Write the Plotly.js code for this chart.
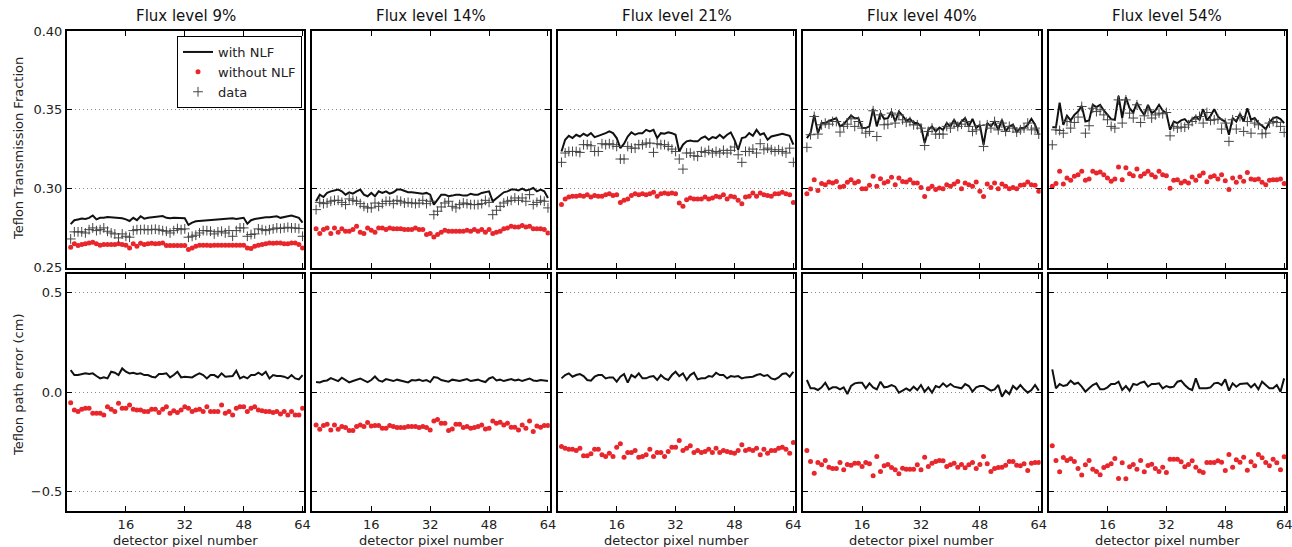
<!DOCTYPE html>
<html><head><meta charset="utf-8">
<script src="https://cdn.plot.ly/plotly-3.0.1.min.js"></script>
<style>html,body{margin:0;padding:0;background:#fff}#chart{width:1292px;height:547px}</style>
</head><body><div id="chart"></div>
<script>
const pixels = [1,2,3,4,5,6,7,8,9,10,11,12,13,14,15,16,17,18,19,20,21,22,23,24,25,26,27,28,29,30,31,32,
 33,34,35,36,37,38,39,40,41,42,43,44,45,46,47,48,49,50,51,52,53,54,55,56,57,58,59,60,61,62,63,64];
const fluxLabels = ['Flux level 9%','Flux level 14%','Flux level 21%','Flux level 40%','Flux level 54%'];
const xTicks = [16,32,48,64];
const topTicks = [0.25,0.30,0.35,0.40];
const botTicks = [-0.5,0.0,0.5];
const seriesNames = ['with NLF','without NLF','data'];

// ---- Flux 9% ----
const top_with_9 = [0.2775,0.2800,0.2805,0.2810,0.2808,0.2815,0.2830,0.2805,0.2815,0.2815,
 0.2820,0.2818,0.2815,0.2815,0.2812,0.2805,0.2795,0.2815,0.2800,0.2825,
 0.2810,0.2815,0.2818,0.2820,0.2822,0.2826,0.2815,0.2813,0.2816,0.2814,
 0.2815,0.2812,0.2770,0.2785,0.2793,0.2795,0.2800,0.2800,0.2802,0.2805,
 0.2805,0.2808,0.2808,0.2810,0.2812,0.2808,0.2812,0.2815,0.2778,0.2800,
 0.2808,0.2812,0.2815,0.2818,0.2818,0.2822,0.2825,0.2815,0.2818,0.2825,
 0.2830,0.2822,0.2815,0.2785];
const top_without_9 = [0.2629,0.2650,0.2639,0.2646,0.2650,0.2656,0.2660,0.2650,0.2641,0.2646,
 0.2646,0.2646,0.2646,0.2650,0.2646,0.2641,0.2624,0.2650,0.2635,0.2654,
 0.2646,0.2650,0.2654,0.2650,0.2652,0.2656,0.2639,0.2639,0.2639,0.2639,
 0.2639,0.2639,0.2614,0.2624,0.2635,0.2641,0.2641,0.2641,0.2639,0.2641,
 0.2641,0.2641,0.2641,0.2641,0.2641,0.2641,0.2641,0.2641,0.2624,0.2620,
 0.2635,0.2641,0.2646,0.2650,0.2656,0.2654,0.2656,0.2656,0.2650,0.2650,
 0.2656,0.2656,0.2646,0.2624];
const top_data_9 = [0.2681,0.2726,0.2726,0.2726,0.2719,0.2740,0.2751,0.2734,0.2740,0.2751,
 0.2730,0.2719,0.2713,0.2688,0.2713,0.2698,0.2692,0.2734,0.2740,0.2740,
 0.2742,0.2738,0.2741,0.2743,0.2739,0.2734,0.2730,0.2719,0.2734,0.2747,
 0.2740,0.2745,0.2692,0.2698,0.2705,0.2719,0.2734,0.2734,0.2730,0.2713,
 0.2726,0.2730,0.2719,0.2734,0.2698,0.2734,0.2751,0.2751,0.2698,0.2709,
 0.2713,0.2745,0.2740,0.2734,0.2740,0.2745,0.2751,0.2747,0.2751,0.2755,
 0.2751,0.2751,0.2747,0.2698];
const bot_with_9 = [0.1103,0.0852,0.0852,0.0902,0.0936,0.0902,0.0936,0.0802,0.0685,0.0735,
 0.0685,0.1019,0.0969,0.0852,0.1186,0.1019,0.0936,0.0969,0.0902,0.0936,
 0.0852,0.0852,0.0769,0.0735,0.0902,0.0902,0.0936,0.0735,0.0852,0.1019,
 0.0735,0.0769,0.0735,0.0735,0.0852,0.0936,0.0852,0.0685,0.0852,0.0852,
 0.0735,0.0936,0.0769,0.0769,0.0802,0.1069,0.0685,0.0769,0.0685,0.0852,
 0.0852,0.0969,0.0852,0.1019,0.0685,0.0852,0.0802,0.0802,0.0769,0.0685,
 0.0852,0.0685,0.0635,0.0852];
const bot_without_9 = [-0.0535,-0.0902,-0.0986,-0.0869,-0.0819,-0.0819,-0.1069,-0.1069,-0.1069,-0.1153,
 -0.0735,-0.0869,-0.0986,-0.0568,-0.0819,-0.0819,-0.0652,-0.0869,-0.0902,-0.0902,
 -0.0986,-0.0986,-0.0869,-0.0869,-0.1036,-0.0869,-0.0735,-0.1069,-0.0936,-0.1036,
 -0.0902,-0.0735,-0.0819,-0.0986,-0.0902,-0.0869,-0.0986,-0.0735,-0.0986,-0.0986,
 -0.0986,-0.0652,-0.1069,-0.0986,-0.1153,-0.0819,-0.0735,-0.0735,-0.0986,-0.0819,
 -0.0735,-0.0902,-0.0936,-0.0986,-0.0986,-0.1036,-0.0986,-0.1103,-0.0986,-0.1153,
 -0.0986,-0.1153,-0.1153,-0.0819];

// ---- Flux 14% ----
const top_with_14 = [0.2920,0.2962,0.2947,0.2973,0.2983,0.2989,0.2994,0.2983,0.2962,0.2977,
 0.2968,0.2983,0.2994,0.2962,0.2952,0.2973,0.2952,0.2983,0.2973,0.2983,
 0.2968,0.2977,0.2994,0.2994,0.2983,0.2977,0.2977,0.2973,0.2973,0.2968,
 0.2973,0.2962,0.2899,0.2930,0.2962,0.2962,0.2952,0.2956,0.2962,0.2962,
 0.2956,0.2956,0.2968,0.2962,0.2962,0.2973,0.2977,0.2983,0.2920,0.2941,
 0.2962,0.2977,0.2983,0.2994,0.2994,0.2989,0.3000,0.2989,0.2994,0.3004,
 0.2983,0.2994,0.2983,0.2941];
const top_without_14 = [0.2745,0.2715,0.2741,0.2751,0.2715,0.2751,0.2724,0.2745,0.2730,0.2730,
 0.2741,0.2762,0.2724,0.2715,0.2751,0.2736,0.2724,0.2751,0.2751,0.2741,
 0.2751,0.2745,0.2745,0.2745,0.2741,0.2741,0.2741,0.2751,0.2741,0.2741,
 0.2709,0.2715,0.2694,0.2709,0.2724,0.2736,0.2730,0.2730,0.2730,0.2730,
 0.2730,0.2736,0.2730,0.2741,0.2730,0.2741,0.2724,0.2741,0.2715,0.2724,
 0.2730,0.2745,0.2751,0.2762,0.2757,0.2757,0.2766,0.2757,0.2762,0.2745,
 0.2745,0.2745,0.2741,0.2719];
const top_data_14 = [0.2867,0.2913,0.2905,0.2909,0.2920,0.2926,0.2926,0.2913,0.2899,0.2935,
 0.2926,0.2920,0.2905,0.2888,0.2878,0.2878,0.2909,0.2888,0.2905,0.2920,
 0.2920,0.2905,0.2926,0.2920,0.2909,0.2913,0.2909,0.2905,0.2909,0.2926,
 0.2905,0.2920,0.2835,0.2857,0.2884,0.2909,0.2920,0.2888,0.2878,0.2899,
 0.2909,0.2905,0.2899,0.2899,0.2899,0.2905,0.2926,0.2913,0.2835,0.2863,
 0.2888,0.2909,0.2920,0.2926,0.2941,0.2926,0.2941,0.2920,0.2962,0.2899,
 0.2913,0.2926,0.2920,0.2878];
const bot_with_14 = [0.050,0.048,0.055,0.058,0.070,0.062,0.055,0.072,0.060,0.048,
 0.055,0.062,0.068,0.058,0.050,0.060,0.078,0.058,0.052,0.065,
 0.060,0.055,0.062,0.058,0.055,0.048,0.060,0.058,0.062,0.055,
 0.060,0.050,0.075,0.072,0.060,0.055,0.052,0.062,0.058,0.055,
 0.060,0.065,0.055,0.058,0.062,0.055,0.050,0.068,0.075,0.058,
 0.062,0.055,0.060,0.065,0.058,0.062,0.055,0.060,0.068,0.058,
 0.055,0.060,0.058,0.055];
const bot_without_14 = [-0.1654,-0.1871,-0.1688,-0.1621,-0.1905,-0.1654,-0.1871,-0.1738,-0.1788,-0.1938,
 -0.1938,-0.1738,-0.1654,-0.1738,-0.1537,-0.1704,-0.1688,-0.1688,-0.1821,-0.1821,
 -0.1688,-0.1738,-0.1788,-0.1788,-0.1788,-0.1738,-0.1738,-0.1738,-0.1788,-0.1738,
 -0.1788,-0.1905,-0.1453,-0.1387,-0.1571,-0.1571,-0.1938,-0.1855,-0.1621,-0.1621,
 -0.1788,-0.1738,-0.1821,-0.1788,-0.1738,-0.1654,-0.1855,-0.1821,-0.1453,-0.1571,
 -0.1520,-0.1654,-0.1571,-0.1771,-0.1771,-0.1905,-0.1654,-0.1821,-0.1453,-0.1988,
 -0.1704,-0.1771,-0.1688,-0.1688];

// ---- Flux 21% ----
const top_with_21 = [0.3236,0.3310,0.3335,0.3321,0.3342,0.3331,0.3348,0.3335,0.3352,0.3327,
 0.3335,0.3342,0.3352,0.3363,0.3352,0.3321,0.3257,0.3285,0.3331,0.3357,
 0.3342,0.3352,0.3352,0.3373,0.3363,0.3373,0.3321,0.3352,0.3348,0.3357,
 0.3352,0.3342,0.3236,0.3279,0.3300,0.3306,0.3300,0.3300,0.3321,0.3331,
 0.3310,0.3327,0.3321,0.3342,0.3321,0.3342,0.3357,0.3310,0.3247,0.3321,
 0.3327,0.3352,0.3335,0.3373,0.3342,0.3352,0.3310,0.3331,0.3335,0.3342,
 0.3348,0.3342,0.3335,0.3279];
const top_without_21 = [0.2899,0.2935,0.2947,0.2952,0.2952,0.2956,0.2952,0.2962,0.2947,0.2956,
 0.2952,0.2952,0.2962,0.2968,0.2956,0.2962,0.2913,0.2926,0.2935,0.2956,
 0.2968,0.2962,0.2968,0.2962,0.2968,0.2977,0.2952,0.2968,0.2973,0.2968,
 0.2973,0.2968,0.2909,0.2888,0.2930,0.2941,0.2935,0.2935,0.2935,0.2947,
 0.2935,0.2941,0.2952,0.2947,0.2962,0.2935,0.2952,0.2947,0.2926,0.2905,
 0.2947,0.2952,0.2973,0.2952,0.2973,0.2962,0.2956,0.2952,0.2968,0.2968,
 0.2977,0.2968,0.2962,0.2913];
const top_data_21 = [0.3167,0.3226,0.3236,0.3236,0.3236,0.3230,0.3279,0.3279,0.3272,0.3236,
 0.3236,0.3285,0.3279,0.3285,0.3279,0.3268,0.3188,0.3188,0.3268,0.3257,
 0.3257,0.3279,0.3279,0.3289,0.3289,0.3230,0.3285,0.3279,0.3279,0.3268,
 0.3251,0.3236,0.3188,0.3124,0.3226,0.3226,0.3209,0.3205,0.3236,0.3230,
 0.3243,0.3226,0.3236,0.3226,0.3243,0.3226,0.3243,0.3264,0.3215,0.3167,
 0.3236,0.3236,0.3251,0.3226,0.3285,0.3247,0.3257,0.3247,0.3236,0.3247,
 0.3236,0.3226,0.3257,0.3167];
const bot_with_21 = [0.0685,0.0852,0.0936,0.0769,0.0852,0.0902,0.0802,0.0602,0.0568,0.0769,
 0.0852,0.0852,0.0685,0.0735,0.0735,0.0518,0.0769,0.0902,0.0468,0.0852,
 0.0735,0.0936,0.0685,0.0685,0.0769,0.0802,0.0602,0.0852,0.0685,0.0602,
 0.0852,0.1019,0.0802,0.0936,0.0602,0.0852,0.0969,0.0635,0.0685,0.0685,
 0.0802,0.0769,0.0969,0.0852,0.0852,0.0685,0.0802,0.0769,0.0802,0.0685,
 0.0735,0.0735,0.0769,0.0852,0.0902,0.0802,0.0852,0.0685,0.0635,0.0735,
 0.0902,0.0936,0.0769,0.1019];
const bot_without_21 = [-0.2740,-0.2824,-0.2874,-0.2874,-0.2941,-0.2824,-0.3208,-0.3208,-0.3108,-0.2874,
 -0.2874,-0.3158,-0.3241,-0.3074,-0.3241,-0.2774,-0.2606,-0.3275,-0.3041,-0.3041,
 -0.2941,-0.3275,-0.3241,-0.3158,-0.2874,-0.3241,-0.3041,-0.3041,-0.3241,-0.2991,
 -0.2774,-0.2774,-0.2439,-0.2941,-0.2824,-0.2707,-0.3041,-0.2941,-0.3041,-0.2991,
 -0.2874,-0.3041,-0.2824,-0.3041,-0.2941,-0.2991,-0.3041,-0.3074,-0.2941,-0.2657,
 -0.2941,-0.2874,-0.2941,-0.2824,-0.3158,-0.2874,-0.3074,-0.2941,-0.2941,-0.2824,
 -0.2774,-0.2874,-0.3074,-0.2540];

// ---- Flux 40% ----
const top_with_40 = [0.3321,0.3352,0.3468,0.3352,0.3416,0.3416,0.3430,0.3437,0.3447,0.3395,
 0.3409,0.3437,0.3464,0.3447,0.3447,0.3384,0.3384,0.3395,0.3506,0.3395,
 0.3479,0.3443,0.3447,0.3489,0.3426,0.3489,0.3464,0.3430,0.3443,0.3416,
 0.3416,0.3395,0.3289,0.3373,0.3395,0.3363,0.3388,0.3373,0.3416,0.3395,
 0.3437,0.3395,0.3426,0.3447,0.3395,0.3443,0.3384,0.3405,0.3278,0.3416,
 0.3395,0.3426,0.3373,0.3437,0.3363,0.3395,0.3405,0.3359,0.3384,0.3384,
 0.3405,0.3443,0.3405,0.3342];
const top_without_40 = [0.2968,0.2998,0.3057,0.2989,0.3032,0.3025,0.3042,0.3036,0.3046,0.3010,
 0.3015,0.3040,0.3057,0.3036,0.3046,0.3000,0.3000,0.3021,0.3078,0.3015,
 0.3063,0.3036,0.3046,0.3072,0.3025,0.3067,0.3046,0.3042,0.3057,0.3036,
 0.3036,0.3008,0.2951,0.3000,0.3015,0.2994,0.3004,0.3000,0.3025,0.3015,
 0.3029,0.3046,0.3000,0.3036,0.3025,0.3015,0.3042,0.2983,0.2951,0.3029,
 0.3008,0.3036,0.3000,0.3029,0.3015,0.3000,0.3008,0.3000,0.3021,0.3025,
 0.3042,0.3025,0.3021,0.2983];
const top_data_40 = [0.3262,0.3342,0.3458,0.3346,0.3405,0.3416,0.3409,0.3426,0.3426,0.3359,
 0.3395,0.3409,0.3443,0.3395,0.3426,0.3384,0.3352,0.3363,0.3494,0.3331,
 0.3468,0.3405,0.3409,0.3479,0.3416,0.3468,0.3437,0.3422,0.3426,0.3405,
 0.3405,0.3384,0.3274,0.3363,0.3384,0.3346,0.3346,0.3346,0.3395,0.3384,
 0.3416,0.3395,0.3409,0.3426,0.3395,0.3363,0.3373,0.3401,0.3268,0.3405,
 0.3384,0.3426,0.3373,0.3416,0.3363,0.3395,0.3384,0.3359,0.3373,0.3384,
 0.3416,0.3373,0.3384,0.3346];
const bot_with_40 = [0.0602,0.0184,0.0184,0.0100,0.0234,0.0468,0.0134,0.0234,0.0234,0.0134,
 0.0234,-0.0100,0.0301,0.0434,0.0468,0.0468,0.0184,0.0434,0.0234,0.0134,
 0.0518,0.0234,0.0267,0.0351,0.0267,-0.0033,0.0067,0.0184,0.0067,0.0267,
 0.0100,0.0351,0.0017,0.0234,-0.0033,0.0301,0.0234,0.0434,0.0267,0.0401,
 0.0267,0.0234,0.0184,0.0401,0.0301,0.0017,0.0234,0.0301,0.0301,0.0184,
 0.0067,0.0134,0.0351,-0.0234,0.0067,-0.0100,0.0301,0.0134,0.0351,0.0134,
 -0.0033,0.0100,0.0351,0.0067];
const bot_without_40 = [-0.2941,-0.3492,-0.4077,-0.3542,-0.3659,-0.3442,-0.3776,-0.3843,-0.3843,-0.3542,
 -0.3909,-0.3642,-0.3676,-0.3575,-0.3575,-0.3742,-0.3542,-0.3609,-0.4210,-0.3241,
 -0.3993,-0.3709,-0.3642,-0.3793,-0.3909,-0.4110,-0.3826,-0.3876,-0.3876,-0.3876,
 -0.3659,-0.3909,-0.3275,-0.3742,-0.3575,-0.3492,-0.3442,-0.3458,-0.3742,-0.3659,
 -0.3575,-0.3776,-0.3642,-0.3809,-0.3659,-0.3542,-0.3843,-0.3642,-0.3241,-0.3609,
 -0.3993,-0.3843,-0.3793,-0.3776,-0.3676,-0.3492,-0.3492,-0.3676,-0.3709,-0.3609,
 -0.3943,-0.3575,-0.3542,-0.3542];

// ---- Flux 54% ----
const top_with_54 = [0.3390,0.3390,0.3546,0.3405,0.3462,0.3433,0.3468,0.3489,0.3525,0.3426,
 0.3433,0.3532,0.3517,0.3532,0.3496,0.3468,0.3441,0.3437,0.3589,0.3448,
 0.3580,0.3510,0.3483,0.3546,0.3500,0.3468,0.3532,0.3479,0.3496,0.3532,
 0.3496,0.3479,0.3373,0.3426,0.3416,0.3433,0.3441,0.3416,0.3441,0.3458,
 0.3437,0.3504,0.3433,0.3462,0.3504,0.3458,0.3437,0.3426,0.3342,0.3448,
 0.3426,0.3475,0.3426,0.3510,0.3437,0.3448,0.3416,0.3399,0.3378,0.3420,
 0.3448,0.3454,0.3441,0.3416];
const top_without_54 = [0.3015,0.3032,0.3110,0.3029,0.3068,0.3053,0.3078,0.3089,0.3110,0.3053,
 0.3061,0.3110,0.3099,0.3105,0.3089,0.3068,0.3047,0.3061,0.3137,0.3057,
 0.3133,0.3095,0.3082,0.3124,0.3078,0.3095,0.3110,0.3089,0.3074,0.3110,
 0.3089,0.3082,0.3002,0.3053,0.3057,0.3036,0.3047,0.3036,0.3074,0.3053,
 0.3082,0.3099,0.3044,0.3074,0.3082,0.3061,0.3089,0.3051,0.2994,0.3068,
 0.3040,0.3074,0.3047,0.3103,0.3061,0.3057,0.3061,0.3040,0.3025,0.3053,
 0.3057,0.3057,0.3061,0.3032];
const top_data_54 = [0.3278,0.3373,0.3369,0.3352,0.3426,0.3384,0.3420,0.3454,0.3521,0.3352,
 0.3399,0.3510,0.3489,0.3500,0.3468,0.3437,0.3395,0.3384,0.3563,0.3416,
 0.3563,0.3479,0.3448,0.3532,0.3420,0.3462,0.3500,0.3448,0.3468,0.3479,
 0.3475,0.3483,0.3335,0.3395,0.3384,0.3390,0.3390,0.3405,0.3426,0.3441,
 0.3458,0.3416,0.3483,0.3433,0.3437,0.3441,0.3378,0.3416,0.3300,0.3437,
 0.3378,0.3458,0.3363,0.3426,0.3352,0.3416,0.3405,0.3348,0.3352,0.3416,
 0.3426,0.3420,0.3395,0.3357];
const bot_with_54 = [0.1136,0.0184,0.0401,0.0301,0.0351,0.0568,0.0401,0.0468,0.0267,0.0017,
 0.0184,0.0351,0.0434,0.0134,0.0134,0.0234,0.0401,0.0401,0.0518,0.0100,
 0.0301,0.0067,0.0401,0.0351,0.0468,0.0518,0.0267,0.0401,0.0401,0.0434,
 0.0184,0.0301,0.0234,0.0267,0.0518,0.0568,0.0351,0.0184,0.0100,0.0685,
 0.0184,0.0184,0.0184,0.0234,0.0434,0.0468,0.0351,0.0635,0.0067,0.0434,
 0.0267,0.0401,0.0434,0.0434,0.0234,0.0401,0.0134,0.0518,0.0351,0.0184,
 0.0184,0.0351,0.0017,0.0685];
const bot_without_54 = [-0.2707,-0.3442,-0.4010,-0.3291,-0.3442,-0.3358,-0.3492,-0.3843,-0.4177,-0.3659,
 -0.3442,-0.3876,-0.3993,-0.4160,-0.3793,-0.3709,-0.3609,-0.3341,-0.4344,-0.3559,
 -0.4361,-0.3759,-0.3642,-0.3876,-0.3442,-0.4010,-0.3692,-0.3626,-0.3843,-0.3993,
 -0.3776,-0.4043,-0.3375,-0.3375,-0.3375,-0.3509,-0.3759,-0.3642,-0.3458,-0.3776,
 -0.3976,-0.4043,-0.3542,-0.3542,-0.3542,-0.3458,-0.3525,-0.3943,-0.3141,-0.3776,
 -0.3408,-0.3525,-0.3275,-0.3926,-0.3509,-0.3709,-0.3141,-0.3308,-0.3542,-0.3709,
 -0.3375,-0.3559,-0.3909,-0.3258];

const topWith = [top_with_9, top_with_14, top_with_21, top_with_40, top_with_54];
const topWithout = [top_without_9, top_without_14, top_without_21, top_without_40, top_without_54];
const topData = [top_data_9, top_data_14, top_data_21, top_data_40, top_data_54];
const botWith = [bot_with_9, bot_with_14, bot_with_21, bot_with_40, bot_with_54];
const botWithout = [bot_without_9, bot_without_14, bot_without_21, bot_without_40, bot_without_54];

// ---- layout geometry (pixels) ----
const W = 1292, H = 547;
const colLeft0 = 67, colStep = 245.4, colWidth = 237.4;
const topRowPx = [31, 267.5], botRowPx = [274, 511];
const FONT = 'DejaVu Sans, Liberation Sans, sans-serif';
const RED = '#e8262b';
const GRID_DASH = '1px,3px';

function px2x(p){ return p / W; }
function px2y(p){ return 1 - p / H; }

const traces = [];
const layout = {
  width: W, height: H,
  margin: {l:0, r:0, t:0, b:0, pad:0},
  paper_bgcolor: '#fff', plot_bgcolor: '#fff',
  font: {family: FONT, size: 13, color: '#222'},
  showlegend: true,
  legend: {
    x: px2x(177), y: px2y(36), xanchor: 'left', yanchor: 'top',
    bgcolor: '#fff', bordercolor: '#000', borderwidth: 1,
    font: {family: FONT, size: 13, color: '#222'},
    tracegroupgap: 0, itemwidth: 30
  },
  annotations: [], shapes: []
};

function axisCommon(){
  return {
    showline: true, linecolor: '#000', linewidth: 2, mirror: 'ticks',
    ticks: 'inside', ticklen: 5, tickwidth: 1, tickcolor: '#000',
    zeroline: false, fixedrange: true, ticklabeloverflow: 'allow',
    tickfont: {family: FONT, size: 13, color: '#222'}
  };
}

for (let c = 0; c < 5; c++) {
  const ti = c + 1, bi = c + 6;
  const x0 = colLeft0 + c * colStep, x1 = x0 + colWidth;
  const xd = [px2x(x0), px2x(x1)];
  layout['xaxis' + ti] = Object.assign(axisCommon(), {
    domain: xd, anchor: 'y' + ti, range: [0, 64.5], tickvals: xTicks,
    showgrid: false, showticklabels: false
  });
  layout['yaxis' + ti] = Object.assign(axisCommon(), {
    domain: [px2y(topRowPx[1]), px2y(topRowPx[0])], anchor: 'x' + ti,
    range: [0.25, 0.40], tickvals: topTicks, tickformat: '.2f',
    showgrid: true, gridcolor: '#888', griddash: GRID_DASH, gridwidth: 1,
    showticklabels: c === 0
  });
  layout['xaxis' + bi] = Object.assign(axisCommon(), {
    domain: xd, anchor: 'y' + bi, range: [0, 64.5], tickvals: xTicks,
    showgrid: false, showticklabels: true
  });
  layout['yaxis' + bi] = Object.assign(axisCommon(), {
    domain: [px2y(botRowPx[1]), px2y(botRowPx[0])], anchor: 'x' + bi,
    range: [-0.598, 0.593], tickvals: botTicks, tickformat: '.1f',
    showgrid: true, gridcolor: '#888', griddash: GRID_DASH, gridwidth: 1,
    showticklabels: c === 0
  });

  const sl = c === 0;
  traces.push({x: pixels, y: topWith[c], xaxis: 'x' + ti, yaxis: 'y' + ti, type: 'scatter', mode: 'lines',
    name: seriesNames[0], showlegend: sl, legendgroup: 'w', line: {color: '#111', width: 2}});
  traces.push({x: pixels, y: topWithout[c], xaxis: 'x' + ti, yaxis: 'y' + ti, type: 'scatter', mode: 'markers',
    name: seriesNames[1], showlegend: sl, legendgroup: 'wo', marker: {color: RED, size: 5, line: {width: 0}}});
  traces.push({x: pixels, y: topData[c], xaxis: 'x' + ti, yaxis: 'y' + ti, type: 'scatter', mode: 'markers',
    name: seriesNames[2], showlegend: sl, legendgroup: 'd',
    marker: {symbol: 'cross-thin-open', size: 7, color: '#444', line: {color: '#444', width: 1}}});
  traces.push({x: pixels, y: botWith[c], xaxis: 'x' + bi, yaxis: 'y' + bi, type: 'scatter', mode: 'lines',
    name: seriesNames[0], showlegend: false, legendgroup: 'w', line: {color: '#111', width: 2}});
  traces.push({x: pixels, y: botWithout[c], xaxis: 'x' + bi, yaxis: 'y' + bi, type: 'scatter', mode: 'markers',
    name: seriesNames[1], showlegend: false, legendgroup: 'wo', marker: {color: RED, size: 5, line: {width: 0}}});

  const cx = px2x((x0 + x1) / 2);
  layout.annotations.push({text: fluxLabels[c], xref: 'paper', yref: 'paper', x: cx, y: px2y(16),
    xanchor: 'center', yanchor: 'middle', showarrow: false, font: {family: FONT, size: 15, color: '#111'}});
  layout.annotations.push({text: 'detector pixel number', xref: 'paper', yref: 'paper', x: cx, y: px2y(540),
    xanchor: 'center', yanchor: 'middle', showarrow: false, font: {family: FONT, size: 13, color: '#222'}});
}

layout.annotations.push({text: 'Teflon Transmission Fraction', xref: 'paper', yref: 'paper',
  x: px2x(18), y: px2y(149), textangle: -90, xanchor: 'center', yanchor: 'middle', showarrow: false,
  font: {family: FONT, size: 13, color: '#222'}});
layout.annotations.push({text: 'Teflon path error (cm)', xref: 'paper', yref: 'paper',
  x: px2x(18), y: px2y(385), textangle: -90, xanchor: 'center', yanchor: 'middle', showarrow: false,
  font: {family: FONT, size: 13, color: '#222'}});

Plotly.newPlot('chart', traces, layout, {staticPlot: true, displayModeBar: false});
</script>
</body></html>
